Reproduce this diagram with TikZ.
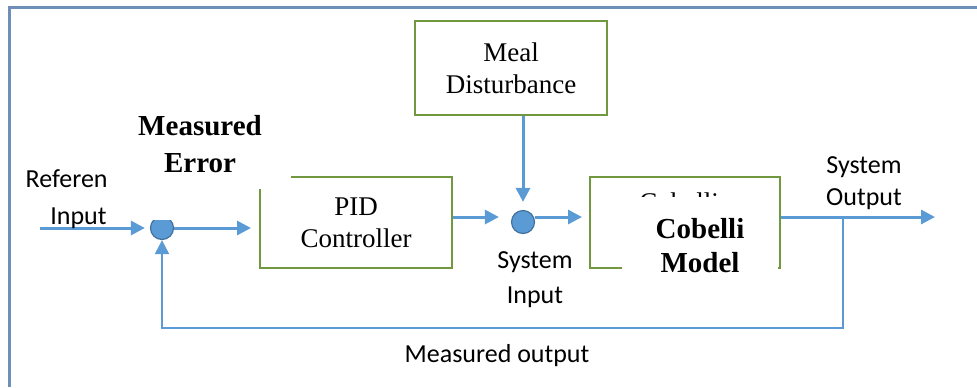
\documentclass[tikz,border=0pt]{standalone}
\usepackage{fontspec}
\setmainfont{Liberation Serif}
\newfontfamily\calfont{Carlito}
\usetikzlibrary{arrows.meta}
\definecolor{arrowblue}{HTML}{5B9BD5}
\definecolor{dotedge}{HTML}{41719C}
\definecolor{boxgreen}{HTML}{71973F}
\definecolor{framecol}{HTML}{6D8FB8}
\tikzset{
  blockbox/.style={draw=boxgreen, line width=1pt, minimum width=96pt, minimum height=45.5pt,
    align=center, font=\fontsize{13.5}{16}\selectfont, inner sep=0pt},
  sumdot/.style={circle, fill=arrowblue, draw=dotedge, line width=0.6pt, minimum size=11.5pt, inner sep=0pt},
  flow/.style={draw=arrowblue, line width=1.5pt, -{Triangle[length=7pt,width=7pt]}},
  fbflow/.style={draw=arrowblue, line width=1pt, -{Triangle[length=7pt,width=7pt]}},
  lab/.style={font=\calfont\fontsize{13}{17}\selectfont, inner sep=0pt},
  boldlab/.style={font=\bfseries\fontsize{14.5}{18.5}\selectfont, inner sep=0pt},
  maskfill/.style={fill=white},
}
\begin{document}
\begin{tikzpicture}[x=0.5pt,y=-0.5pt]
\useasboundingbox (0,0) rectangle (977,387);
\draw[framecol, line width=1.5pt] (9,387) -- (9,7) -- (977,7);

% blocks
\node[blockbox, minimum height=47pt] (meal) at (511,68) {Meal\\Disturbance};
\node[blockbox] (pid) at (356,222.5) {PID\\Controller};
\node[blockbox, minimum width=95pt] (cob) at (685,222.5) {};
\node[font=\fontsize{13.5}{16}\selectfont, inner sep=0pt, anchor=base] (cobold) at (679,211) {Cobelli};

% junctions
\begin{scope}
  \clip (140,220) rectangle (185,250);
  \node[sumdot] (j1) at (162,228) {};
\end{scope}
\node[sumdot] (j2) at (523,222) {};

% free ends
\coordinate (refin) at (40,228);
\coordinate (sysout) at (935,217);
\coordinate (tap) at (843,217);
\coordinate (fbr) at (843,328);
\coordinate (fbl) at (162,328);

% connectors
\draw[flow, shorten >=2.5pt] (refin) -- (j1);
\draw[flow, shorten >=4pt] (j1) -- (pid.west |- j1);
\draw[flow, shorten >=6pt] ([yshift=2.75pt]pid.east) -- ([yshift=2.5pt]j2.west);
\draw[flow, shorten >=4pt] (meal.south -| j2) -- (j2.north);
\draw[flow, shorten >=3.5pt] ([yshift=2.5pt]j2.east) -- ([yshift=2.75pt]cob.west);
\draw[flow] ([yshift=2.75pt]cob.east) -- (sysout);
\draw[fbflow] (tap) -- (fbr) -- (fbl) -- (j1.south);

% masks
\fill[maskfill] (112,100) rectangle (291,189);
\fill[maskfill] (622,197) rectangle (778,282);

% labels
\node[boldlab, anchor=base] (me1) at (200,135) {Measured};
\node[boldlab, anchor=base] (me2) at (200,172) {Error};
\node[boldlab, anchor=base] (cm1) at (700,238) {Cobelli};
\node[boldlab, anchor=base] (cm2) at (700,272) {Model};
\node[lab, anchor=base east] (ri1) at (108,187) {Referen};
\node[lab, anchor=base east] (ri2) at (107,224) {Input};
\node[lab, anchor=base] (so1) at (864,173) {System};
\node[lab, anchor=base] (so2) at (864,205) {Output};
\node[lab, anchor=base] (si1) at (535,268) {System};
\node[lab, anchor=base] (si2) at (535,303) {Input};
\node[lab, anchor=base] (mo) at (497,362) {Measured output};
\end{tikzpicture}
\end{document}
